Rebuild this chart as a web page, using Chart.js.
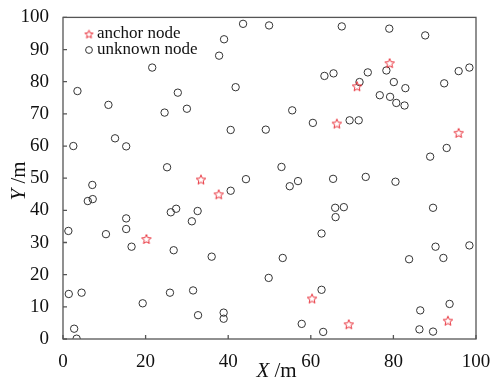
<!DOCTYPE html>
<html>
<head>
<meta charset="utf-8">
<script src="https://cdn.jsdelivr.net/npm/chart.js@4"></script>
<style>
  html, body { margin: 0; padding: 0; background: #fff; }
  #wrap { width: 497px; height: 381px; }
</style>
</head>
<body>
<div id="wrap"><canvas id="chart" width="497" height="381"></canvas></div>
<script>
// anchor nodes (red stars)
const anchorX = [20.2, 33.4, 37.7, 60.3, 69.2, 93.2, 66.3, 71.2, 79.1, 95.8];
const anchorY = [31.1, 49.6, 45.0, 12.6, 4.6, 5.7, 67.0, 78.6, 85.8, 64.1];

// unknown nodes (black circles)
const unknownX = [
  3.5, 11.0, 21.6, 24.6, 27.8, 30.0,
  43.6, 49.9, 39.0, 37.8, 63.3, 65.5, 41.8, 55.5, 60.5, 40.6, 49.1,
  67.5, 79.0, 87.7, 78.3, 73.8, 71.8, 80.1, 82.9, 95.8, 98.4, 92.3, 76.7, 79.2, 80.7, 82.7, 69.4, 71.6,
  92.9, 88.9, 65.4, 73.3, 80.5, 65.9, 68.0, 66.0, 89.6,
  52.9, 44.3, 56.9, 54.9, 40.6, 32.6, 31.2, 62.6,
  2.5, 12.6, 15.3, 25.2, 7.1, 6.0, 7.2, 26.1, 27.4, 15.3, 15.3, 1.3, 10.4,
  16.6, 26.8, 1.4, 4.5, 19.3, 25.9, 31.5, 32.7, 2.7, 3.3,
  36.0, 53.2, 49.8, 62.6, 38.9, 38.9, 57.8, 63.0,
  83.8, 90.2, 92.1, 98.4, 86.5, 93.6, 86.3, 89.6
];
const unknownY = [
  77.1, 72.8, 84.4, 70.4, 76.6, 71.6,
  98.0, 97.5, 93.2, 88.1, 81.8, 82.6, 78.3, 71.1, 67.2, 65.0, 65.1,
  97.2, 96.5, 94.4, 83.5, 82.9, 79.9, 79.9, 78.0, 83.3, 84.4, 79.5, 75.8, 75.3, 73.4, 72.6, 68.0, 68.0,
  59.4, 56.7, 49.8, 50.4, 48.9, 40.8, 41.0, 37.9, 40.8,
  53.5, 49.7, 49.1, 47.5, 46.1, 39.8, 36.6, 32.8,
  60.0, 62.4, 59.9, 53.4, 47.9, 42.9, 43.5, 39.4, 40.5, 37.5, 34.2, 33.6, 32.6,
  28.7, 27.6, 14.0, 14.4, 11.1, 14.4, 15.1, 7.4, 3.2, 0.1,
  25.6, 25.2, 19.0, 15.3, 8.2, 6.3, 4.7, 2.2,
  24.8, 28.7, 25.2, 29.1, 8.9, 10.9, 3.0, 2.3
];

const xTicks = [0, 20, 40, 60, 80, 100];
const yTicks = [0, 10, 20, 30, 40, 50, 60, 70, 80, 90, 100];

const FONT = 'Liberation Serif';
const RED = '#e8303a';
const DARK = '#333333';

// five-pointed star outline used as point style
function makeStar(r) {
  const size = Math.ceil(r * 2 + 4);
  const c = document.createElement('canvas');
  c.width = size; c.height = size;
  const g = c.getContext('2d');
  const cx = size / 2, cy = size / 2 + 0.5;
  g.beginPath();
  for (let i = 0; i < 10; i++) {
    const rad = i % 2 === 0 ? r : r * 0.45;
    const a = -Math.PI / 2 + i * Math.PI / 5;
    const px = cx + rad * Math.cos(a), py = cy + rad * Math.sin(a);
    if (i === 0) g.moveTo(px, py); else g.lineTo(px, py);
  }
  g.closePath();
  g.strokeStyle = RED;
  g.lineWidth = 1;
  g.stroke();
  return c;
}
const star = makeStar(5);
const smallStar = makeStar(4.3);

const frame = {
  id: 'frame',
  afterDraw(chart) {
    const { ctx, chartArea: a, scales: { x, y } } = chart;
    ctx.save();
    ctx.strokeStyle = '#555';
    ctx.lineWidth = 1.3;
    ctx.strokeRect(a.left, a.top, a.right - a.left, a.bottom - a.top);
    ctx.beginPath();
    xTicks.forEach(v => {
      const px = x.getPixelForValue(v);
      ctx.moveTo(px, a.bottom); ctx.lineTo(px, a.bottom - 4);
    });
    yTicks.forEach(v => {
      const py = y.getPixelForValue(v);
      ctx.moveTo(a.left, py); ctx.lineTo(a.left + 4, py);
    });
    ctx.stroke();

    // axis titles: italic letter + upright unit
    ctx.fillStyle = '#111';
    ctx.textBaseline = 'middle';
    ctx.textAlign = 'left';
    const it = 'italic 21px "' + FONT + '"', up = '21px "' + FONT + '"';
    ctx.font = up;
    const wu = ctx.measureText(' /m').width;

    ctx.font = it;
    const wx = ctx.measureText('X').width;
    let sx = (a.left + a.right) / 2 + 7 - (wx + wu) / 2;
    ctx.fillText('X', sx, 371);
    ctx.font = up;
    ctx.fillText(' /m', sx + wx, 371);

    ctx.translate(19, 181);
    ctx.rotate(-Math.PI / 2);
    ctx.font = it;
    const wy = ctx.measureText('Y').width;
    sx = -(wy + wu) / 2;
    ctx.fillText('Y', sx, 0);
    ctx.font = up;
    ctx.fillText(' /m', sx + wy, 0);
    ctx.restore();

    // legend
    ctx.save();
    Chart.helpers.drawPoint(ctx, { pointStyle: smallStar, rotation: 0, radius: 4.3 }, 89, 34);
    ctx.strokeStyle = DARK;
    ctx.lineWidth = 1;
    ctx.beginPath();
    ctx.arc(89, 50, 3.4, 0, Math.PI * 2);
    ctx.stroke();
    ctx.fillStyle = '#111';
    ctx.font = '17px "' + FONT + '"';
    ctx.textBaseline = 'middle';
    ctx.textAlign = 'left';
    ctx.fillText('anchor node', 97, 34);
    ctx.fillText('unknown node', 97, 50);
    ctx.restore();
  }
};

new Chart(document.getElementById('chart'), {
  type: 'scatter',
  data: {
    datasets: [
      {
        label: 'anchor node',
        data: anchorX.map((v, i) => ({ x: v, y: anchorY[i] })),
        pointStyle: star,
        pointRadius: 5,
        order: 0
      },
      {
        label: 'unknown node',
        data: unknownX.map((v, i) => ({ x: v, y: unknownY[i] })),
        pointStyle: 'circle',
        pointRadius: 3.7,
        borderColor: DARK,
        backgroundColor: 'rgba(0,0,0,0)',
        borderWidth: 1,
        order: 1
      }
    ]
  },
  options: {
    responsive: false,
    animation: false,
    layout: { padding: { top: 17, right: 21, left: 0, bottom: 0 } },
    plugins: { legend: { display: false }, tooltip: { enabled: false } },
    scales: {
      x: {
        type: 'linear', min: 0, max: 100,
        afterBuildTicks: s => { s.ticks = xTicks.map(v => ({ value: v })); },
        afterFit: s => { s.height = 42; },
        grid: { display: false },
        border: { display: false },
        ticks: { color: '#111', padding: 4, maxRotation: 0, font: { family: FONT, size: 19 } }
      },
      y: {
        type: 'linear', min: 0, max: 100,
        afterBuildTicks: s => { s.ticks = yTicks.map(v => ({ value: v })); },
        afterFit: s => { s.width = 63; },
        grid: { display: false },
        border: { display: false },
        ticks: { color: '#111', padding: 6, font: { family: FONT, size: 19 } }
      }
    }
  },
  plugins: [frame]
});
</script>
</body>
</html>
